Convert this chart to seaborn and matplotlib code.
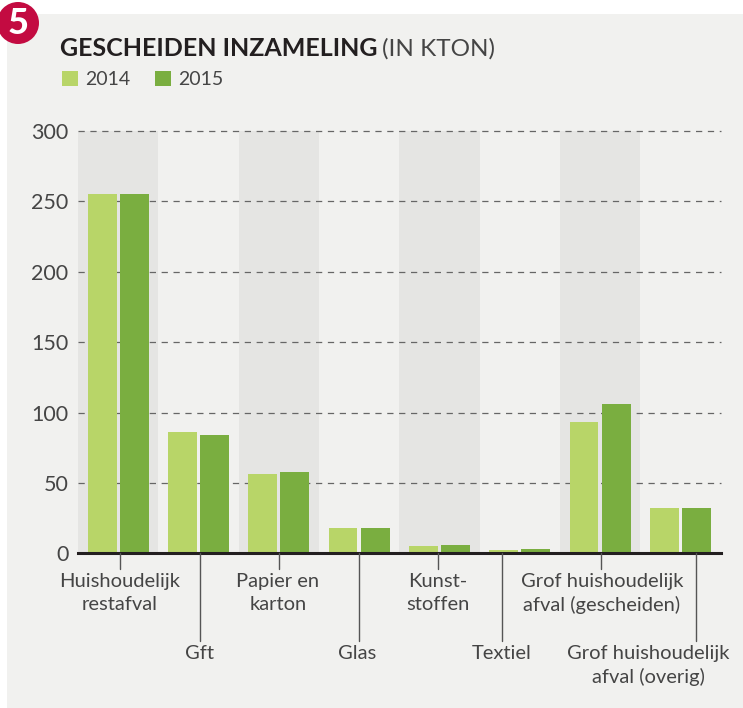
import numpy as np
import pandas as pd
import matplotlib
matplotlib.use("Agg")
import matplotlib.pyplot as plt
from matplotlib.patches import Circle, Rectangle
import seaborn as sns

categories = ["Huishoudelijk\nrestafval", "Gft", "Papier en\nkarton", "Glas", "Kunst-\nstoffen",
              "Textiel", "Grof huishoudelijk\nafval (gescheiden)", "Grof huishoudelijk\nafval (overig)"]
v2014 = [255, 86, 56, 18, 5, 2, 93, 32]
v2015 = [255, 84, 58, 18, 6, 3, 106, 32]
yticks = [0, 50, 100, 150, 200, 250, 300]

# leader line end and label centre, in pixels of the reference
line_x = [119.5, 199.5, 279, 358.7, 438, 501.5, 600.5, 695.5]
label_x = [120, 199, 278, 357, 438, 502, 602, 648]
line_end = [569, 641, 569, 641, 569, 641, 569, 641]

W, H = 743, 708
ink = "#454545"

sns.set_theme(style="white")
plt.rcParams["font.family"] = ["Lato", "DejaVu Sans"]

q = pd.DataFrame({"cat": categories * 2,
                  "val": v2014 + v2015,
                  "jaar": ["2014"] * 8 + ["2015"] * 8})

fg = plt.figure(figsize=(W / 100, H / 100), dpi=100, facecolor="white")
fg.patches.append(Rectangle((7 / W, 0), 1 - 7 / W, (H - 14) / H, transform=fg.transFigure,
                            facecolor="#f1f1ef", edgecolor="none", zorder=-5))
fg.patches.append(Circle((18 / 100, (H - 23) / 100), 21 / 100, transform=fg.dpi_scale_trans,
                         facecolor="#c30b41", edgecolor="none", zorder=5))

ax = fg.add_axes([78 / W, (H - 553.3) / H, (720.5 - 78) / W, (553.3 - 131) / H])
ax.patch.set_alpha(0)

sns.barplot(data=q, x="cat", y="val", hue="jaar", order=categories,
            palette=["#b8d568", "#7aae40"], width=0.8, gap=0.1,
            saturation=1, linewidth=0, ax=ax, zorder=3)
ax.set_xlim(-0.5, 7.5)
ax.set_ylim(0, 300)
ax.set_xlabel("")
ax.set_ylabel("")

# alternating bands
for i in range(0, 8, 2):
    ax.axvspan(i - 0.5, i + 0.5, facecolor="#e5e5e3", edgecolor="none", zorder=0)

ax.set_yticks(yticks)
ax.set_yticklabels([str(v) for v in yticks], fontsize=15.5, color=ink)
ax.tick_params(axis="y", length=0, pad=7)
for v in yticks[1:]:
    ax.axhline(v, color="#666666", lw=0.9, dashes=(5, 4.5), zorder=1, clip_on=False)

sns.despine(ax=ax, left=True, top=True, right=True)
ax.spines["bottom"].set_color("#231f20")
ax.spines["bottom"].set_linewidth(2.2)
ax.spines["bottom"].set_zorder(4)

# leader lines and category labels, placed below the axis
ax.set_xticks([])
for name, lx, tx, end in zip(categories, line_x, label_x, line_end):
    fg.add_artist(plt.Line2D([lx / W, lx / W], [(H - 553) / H, (H - end) / H],
                             color="#555555", lw=1))
    fg.text(tx / W, (H - end - 4) / H, name, ha="center", va="top", fontsize=14.5,
            color=ink, linespacing=1.42)

# title and legend
fg.text(60 / W, (H - 56) / H, "GESCHEIDEN INZAMELING", fontsize=18, fontweight="bold",
        color="#231f20", va="baseline")
fg.text(382 / W, (H - 56) / H, "(IN KTON)", fontsize=17.5,
        color=ink, va="baseline")
fg.text(18 / W, (H - 23) / H, "5", fontsize=26, fontweight="black", color="white",
        ha="center", va="center", zorder=6)

h, l = ax.get_legend_handles_labels()
ax.legend(h, l, loc="lower left", bbox_to_anchor=(62 / W, (H - 88) / H),
          bbox_transform=fg.transFigure, ncol=2, frameon=False,
          handlelength=0.82, handleheight=0.82, handletextpad=0.35, columnspacing=1.3,
          borderpad=0, borderaxespad=0, labelcolor=ink, prop={"size": 14})

fg.savefig("out.png", dpi=100, facecolor="white")
